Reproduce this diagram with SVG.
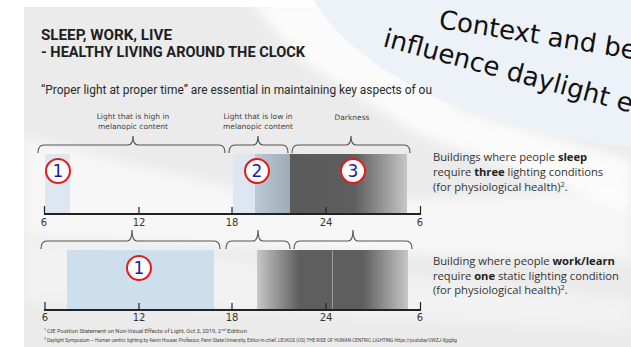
<svg xmlns="http://www.w3.org/2000/svg" width="631" height="347" viewBox="0 0 631 347">
  <defs>
    <style>
      .title { font-family: "Roboto", "Liberation Sans", sans-serif; font-size: 14.5px; font-weight: bold; fill: #1e1e1e; }
      .sub { font-family: "Roboto", "Liberation Sans", sans-serif; font-size: 12px; fill: #2a2a2a; }
      .lbl { font-family: "DejaVu Sans", "Liberation Sans", sans-serif; font-size: 7.5px; fill: #444; text-anchor: middle; }
      .tick { font-family: "DejaVu Sans", "Liberation Sans", sans-serif; font-size: 10px; fill: #333; text-anchor: middle; }
      .desc { font-family: "Open Sans", "Liberation Sans", sans-serif; font-size: 11.2px; fill: #333; }
      .desc tspan.b { font-weight: bold; fill: #222; }
      .sup { font-family: "Open Sans", "Liberation Sans", sans-serif; font-size: 7.5px; fill: #333; }
      .foot { font-family: "Roboto", "Liberation Sans", sans-serif; font-size: 5.6px; fill: #444; }
      .fsup { font-family: "Roboto", "Liberation Sans", sans-serif; font-size: 3.8px; fill: #444; }
      .brace { fill: none; stroke: #555; stroke-width: 1.2; }
      .axis { fill: none; stroke: #222; stroke-width: 2; }
      .tk { stroke: #222; stroke-width: 1.2; }
      .badge circle { fill: #fff; stroke: #e31b1b; stroke-width: 2; }
      .badge text { font-family: "DejaVu Sans", "Liberation Sans", sans-serif; font-size: 17px; fill: #1c1ca0; text-anchor: middle; }
      .big { font-family: "DejaVu Sans", "Liberation Sans", sans-serif; font-size: 26px; fill: #111; }
    </style>
    <linearGradient id="dusk" x1="0" x2="1" y1="0" y2="0">
      <stop offset="0" stop-color="#bcc9d3"/>
      <stop offset="1" stop-color="#9eacb8"/>
    </linearGradient>
    <linearGradient id="dark1" x1="0" x2="1" y1="0" y2="0">
      <stop offset="0" stop-color="#5a5a5a"/>
      <stop offset="0.55" stop-color="#5e5e5e"/>
      <stop offset="1" stop-color="#c6c6c6"/>
    </linearGradient>
    <linearGradient id="dark2" x1="0" x2="1" y1="0" y2="0">
      <stop offset="0" stop-color="#c8c8c8"/>
      <stop offset="0.28" stop-color="#5e5e5e"/>
      <stop offset="0.7" stop-color="#5e5e5e"/>
      <stop offset="1" stop-color="#c6c6c6"/>
    </linearGradient>
    <filter id="soft" x="-10%" y="-10%" width="120%" height="120%">
      <feGaussianBlur stdDeviation="6"/>
    </filter>
  </defs>

  <!-- page and slide panel -->
  <rect x="0" y="0" width="631" height="347" fill="#ffffff"/>
  <rect x="24" y="7" width="607" height="340" fill="#ebebeb"/>

  <!-- soft light streaks across the panel -->
  <g filter="url(#soft)" fill="#ffffff">
    <polygon points="24,138 300,205 631,190 631,260 300,250 24,235" opacity="0.6"/>
    <polygon points="24,240 631,300 631,330 24,300" opacity="0.35"/>
    <polygon points="250,0 340,0 460,110 631,160 631,210 420,135 300,60" opacity="0.8"/>
  </g>

  <!-- swoosh in the top right corner -->
  <path d="M314,0 C338,45 405,92 490,118 C550,136 600,144 631,147 L631,0 Z" fill="#edf2f9"/>

  <!-- heading -->
  <g id="heading">
    <text class="title" x="41" y="40" textLength="131" lengthAdjust="spacingAndGlyphs">SLEEP, WORK, LIVE</text>
    <text class="title" x="41" y="57" textLength="264" lengthAdjust="spacingAndGlyphs">- HEALTHY LIVING AROUND THE CLOCK</text>
    <text class="sub" x="41" y="94" textLength="391" lengthAdjust="spacingAndGlyphs">“Proper light at proper time” are essential in maintaining key aspects of ou</text>
  </g>

  <!-- range labels -->
  <g id="labels">
    <text class="lbl" x="133" y="119">Light that is high in</text>
    <text class="lbl" x="133" y="129">melanopic content</text>
    <text class="lbl" x="258" y="119">Light that is low in</text>
    <text class="lbl" x="258" y="129">melanopic content</text>
    <text class="lbl" x="352" y="120">Darkness</text>
  </g>

  <!-- connectors: braces and time axes -->
  <g id="connectors">
    <path class="brace" d="M38,153 Q38,145 44,145 L128,145 Q133,145 133,136 Q133,145 138,145 L219,145 Q225,145 225,153"/>
    <path class="brace" d="M229,153 Q229,145 235,145 L253,145 Q258,145 258,136 Q258,145 263,145 L282,145 Q288,145 288,153"/>
    <path class="brace" d="M292,153 Q292,145 298,145 L346,145 Q351,145 351,136 Q351,145 356,145 L404,145 Q410,145 410,153"/>

    <path class="brace" d="M41,249 Q41,241 47,241 L127,241 Q132,241 132,230 Q132,241 137,241 L214,241 Q220,241 220,249"/>
    <path class="brace" d="M226,249 Q226,241 232,241 L253,241 Q258,241 258,230 Q258,241 263,241 L284,241 Q290,241 290,249"/>
    <path class="brace" d="M294,249 Q294,241 300,241 L348,241 Q353,241 353,230 Q353,241 358,241 L406,241 Q412,241 412,249"/>
  </g>

  <!-- sleep timeline -->
  <g id="sleep-timeline">
    <rect x="45" y="154" width="25" height="59" fill="#dce7f1"/>
    <rect x="233" y="154" width="22" height="59" fill="#dce7f1"/>
    <rect x="255" y="154" width="35" height="59" fill="url(#dusk)"/>
    <rect x="290" y="154" width="117" height="59" fill="url(#dark1)"/>
    <path class="axis" d="M44,214 H421"/>
    <path class="tk" d="M44.5,206 V214 M139,207 V214 M232,207 V214 M326,207 V214 M420.5,206 V214"/>
    <text class="tick" x="44" y="226">6</text>
    <text class="tick" x="139" y="226">12</text>
    <text class="tick" x="232" y="226">18</text>
    <text class="tick" x="326" y="226">24</text>
    <text class="tick" x="420" y="226">6</text>
  </g>

  <g id="badge-1a" class="badge">
    <circle cx="58" cy="171" r="12"/>
    <text x="58" y="177">1</text>
  </g>
  <g id="badge-2" class="badge">
    <circle cx="257" cy="171" r="12"/>
    <text x="257" y="177">2</text>
  </g>
  <g id="badge-3" class="badge">
    <circle cx="353" cy="171" r="12"/>
    <text x="353" y="177">3</text>
  </g>

  <!-- work timeline -->
  <g id="work-timeline">
    <rect x="67" y="250" width="147" height="59" fill="#cddeed"/>
    <rect x="257" y="250" width="151" height="59" fill="url(#dark2)"/>
    <path d="M332.5,250 V309" stroke="#9a9a9a" stroke-width="1"/>
    <path class="axis" d="M44,310 H421"/>
    <path class="tk" d="M45,302 V310 M139,303 V310 M232,303 V310 M326,303 V310 M420.5,302 V310"/>
    <text class="tick" x="45" y="321">6</text>
    <text class="tick" x="139" y="321">12</text>
    <text class="tick" x="232" y="321">18</text>
    <text class="tick" x="326" y="321">24</text>
    <text class="tick" x="420" y="321">6</text>
  </g>

  <g id="badge-1b" class="badge">
    <circle cx="139" cy="268" r="12"/>
    <text x="139" y="274">1</text>
  </g>

  <!-- descriptions -->
  <g id="sleep-note">
    <text class="desc" x="433" y="161">Buildings where people <tspan class="b">sleep</tspan></text>
    <text class="desc" x="433" y="176">require <tspan class="b">three</tspan> lighting conditions</text>
    <text class="desc" x="433" y="191">(for physiological health)<tspan class="sup" dy="-4">2</tspan><tspan dy="4">.</tspan></text>
  </g>
  <g id="work-note">
    <text class="desc" x="433" y="265">Building where people <tspan class="b">work/learn</tspan></text>
    <text class="desc" x="433" y="280">require <tspan class="b">one</tspan> static lighting condition</text>
    <text class="desc" x="433" y="294">(for physiological health)<tspan class="sup" dy="-4">2</tspan><tspan dy="4">.</tspan></text>
  </g>

  <!-- footnotes -->
  <g id="footnotes">
    <text class="fsup" x="44" y="331">1</text>
    <text class="foot" x="47" y="333" textLength="174" lengthAdjust="spacingAndGlyphs">CIE Position Statement on Non-Visual Effects of Light, Oct 3, 2019, 2</text>
    <text class="fsup" x="221.5" y="331">nd</text>
    <text class="foot" x="227" y="333" textLength="20" lengthAdjust="spacingAndGlyphs">Edition</text>
    <text class="fsup" x="44" y="340">2</text>
    <text class="foot" x="47" y="342" textLength="410" lengthAdjust="spacingAndGlyphs">Daylight Symposium – Human centric lighting by Kevin Houser, Professor, Penn State University, Editor-in-chief, LEUKOS (US) THE RISE OF HUMAN CENTRIC LIGHTING  https://youtube/OWZJ-Xjpgbg</text>
  </g>

  <!-- overlay caption on the swoosh -->
  <g id="caption">
    <text class="big" transform="translate(438,28) rotate(9)">Context and bel</text>
    <text class="big" transform="translate(382,46) rotate(15)">influence daylight e</text>
  </g>
</svg>
